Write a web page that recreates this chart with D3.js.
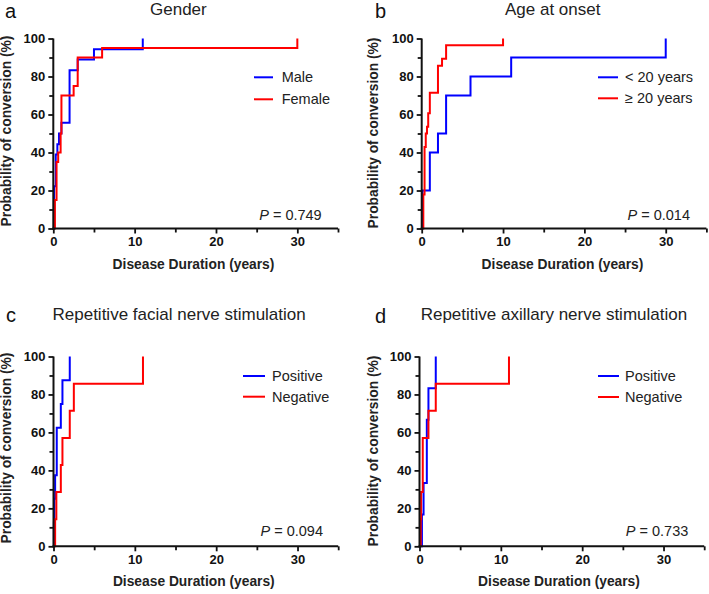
<!DOCTYPE html>
<html>
<head>
<meta charset="utf-8">
<script src="https://cdn.jsdelivr.net/npm/d3@7"></script>
<style>
  html, body { margin: 0; padding: 0; background: #fff; }
  svg { display: block; font-family: "Liberation Sans", Arial, Helvetica, sans-serif; }
</style>
</head>
<body>
<svg id="chart" width="709" height="594"></svg>
<script>
// ---------------- DATA ----------------
const panelLetters = ["a", "b", "c", "d"];
const panelTitles = ["Gender", "Age at onset", "Repetitive facial nerve stimulation", "Repetitive axillary nerve stimulation"];
const seriesNames = [["Male", "Female"], ["< 20 years", "\u2265 20 years"], ["Positive", "Negative"], ["Positive", "Negative"]];
const pValues = ["0.749", "0.014", "0.094", "0.733"];
const xTickValues = [0, 10, 20, 30];
const xMinorTicks = [5, 15, 25, 35];
const yTickValues = [0, 20, 40, 60, 80, 100];
const yMinorTicks = [10, 30, 50, 70, 90];
const xAxisTitle = "Disease Duration (years)";
const yAxisTitle = "Probability of conversion (%)";

// Panel a: Gender
const maleTime = [0.1, 0.3, 0.5, 0.7, 1.0, 2.0, 3.0, 5.0, 11.0];
const maleProb = [22.2, 38.9, 44.4, 50.0, 55.6, 83.3, 88.9, 94.4, 100];
const femaleTime = [0.2, 0.4, 0.6, 0.9, 1.0, 2.5, 3.0, 6.0, 30.0];
const femaleProb = [15, 35, 40, 50, 70, 75, 90, 95, 100];

// Panel b: Age at onset
const youngTime = [0.1, 1.0, 2.0, 3.0, 6.0, 11.0, 30.0];
const youngProb = [20, 40, 50, 70, 80, 90, 100];
const olderTime = [0.2, 0.35, 0.5, 0.65, 0.8, 1.0, 2.0, 2.5, 3.0, 10.0];
const olderProb = [17.9, 42.9, 50.0, 53.6, 60.7, 71.4, 85.7, 89.3, 96.4, 100];

// Panel c: Repetitive facial nerve stimulation
const facialPosTime = [0.05, 0.1, 0.2, 0.4, 0.9, 1.1, 2.0];
const facialPosProb = [12.5, 25.0, 37.5, 62.5, 75.0, 87.5, 100];
const facialNegTime = [0.2, 0.35, 0.9, 1.1, 2.0, 2.5, 11.0];
const facialNegProb = [14.3, 28.6, 42.9, 57.1, 71.4, 85.7, 100];

// Panel d: Repetitive axillary nerve stimulation
const axillaryPosTime = [0.3, 0.5, 0.9, 1.1, 2.0];
const axillaryPosProb = [16.7, 33.3, 66.7, 83.3, 100];
const axillaryNegTime = [0.15, 0.2, 0.4, 1.1, 2.0, 11.0];
const axillaryNegProb = [14.3, 28.6, 57.1, 71.4, 85.7, 100];

const panelSeries = [
  [[maleTime, maleProb], [femaleTime, femaleProb]],
  [[youngTime, youngProb], [olderTime, olderProb]],
  [[facialPosTime, facialPosProb], [facialNegTime, facialNegProb]],
  [[axillaryPosTime, axillaryPosProb], [axillaryNegTime, axillaryNegProb]]
];

// ---------------- LAYOUT ----------------
const seriesColors = ["#0000ff", "#ff0000"];
const layout = [
  { x0: 53.3, x1: 338.0, yTop: 38.5, yBot: 228.5, letter: [5, 18], title: [150, 15], leg: { a: 254, b: 273, ys: [77.3, 99.3], tx: 281.7 }, p: [321.7, 219.5], xt: [193.5, 268.5], yt: [11, 131] },
  { x0: 421.7, x1: 706.4, yTop: 38.5, yBot: 228.5, letter: [375, 18], title: [505, 15], leg: { a: 598, b: 618, ys: [77.3, 98.3], tx: 625 }, p: [690, 219.5], xt: [562.5, 268.5], yt: [378, 133] },
  { x0: 53.5, x1: 338.2, yTop: 356.5, yBot: 546.3, letter: [6, 322], title: [52.5, 319.5], leg: { a: 243, b: 265, ys: [376, 396.7], tx: 272 }, p: [323, 535.5], xt: [193.8, 585.5], yt: [11, 448] },
  { x0: 419.5, x1: 704.2, yTop: 356.5, yBot: 546.3, letter: [375, 322.5], title: [420.7, 319.5], leg: { a: 598, b: 619, ys: [376, 397], tx: 625 }, p: [688.3, 535.5], xt: [559, 585.5], yt: [378, 451] }
];

const svg = d3.select("#chart");

panelLetters.forEach((letter, i) => {
  const L = layout[i];
  const g = svg.append("g");
  const x = d3.scaleLinear().domain([0, 35]).range([L.x0, L.x1]);
  const y = d3.scaleLinear().domain([0, 100]).range([L.yBot, L.yTop]);

  // panel letter
  g.append("text").attr("x", L.letter[0]).attr("y", L.letter[1])
    .attr("font-size", 20).attr("fill", "#111").text(letter);
  // title
  g.append("text").attr("x", L.title[0]).attr("y", L.title[1])
    .attr("font-size", 17).attr("fill", "#222").text(panelTitles[i]);

  // curves (blue first, red on top)
  const line = d3.line().x(d => x(d[0])).y(d => y(d[1])).curve(d3.curveStepAfter);
  panelSeries[i].forEach((s, k) => {
    const pts = [[0, 0]].concat(s[0].map((t, j) => [t, s[1][j]]));
    g.append("path").datum(pts).attr("d", line)
      .attr("fill", "none").attr("stroke", seriesColors[k])
      .attr("stroke-width", 2).attr("stroke-linejoin", "miter").attr("stroke-linecap", "butt");
  });

  // axes
  const xAxis = g.append("g").attr("transform", `translate(0,${L.yBot})`)
    .call(d3.axisBottom(x).tickValues(xTickValues).tickSize(5).tickPadding(3).tickFormat(d3.format("d")));
  g.append("g").attr("transform", `translate(0,${L.yBot})`)
    .call(d3.axisBottom(x).tickValues(xMinorTicks).tickSize(4).tickFormat(""))
    .call(a => a.select(".domain").remove());
  const yAxis = g.append("g").attr("transform", `translate(${L.x0},0)`)
    .call(d3.axisLeft(y).tickValues(yTickValues).tickSize(5).tickPadding(3).tickFormat(d3.format("d")));
  g.append("g").attr("transform", `translate(${L.x0},0)`)
    .call(d3.axisLeft(y).tickValues(yMinorTicks).tickSize(4).tickFormat(""))
    .call(a => a.select(".domain").remove());

  g.selectAll(".domain").attr("stroke", "#111").attr("stroke-width", 2);
  xAxis.select(".domain").attr("d", `M${L.x0 - 1},0H${L.x1}`);
  yAxis.select(".domain").attr("d", `M0,${L.yTop}V${L.yBot + 1}`);
  g.selectAll(".tick line").attr("stroke", "#111").attr("stroke-width", 1.8);
  g.selectAll(".tick text").attr("font-size", 13).attr("font-weight", "bold")
    .attr("fill", "#111").attr("font-family", "'Liberation Sans', Arial, sans-serif");

  // axis titles
  g.append("text").attr("x", L.xt[0]).attr("y", L.xt[1]).attr("text-anchor", "middle")
    .attr("font-size", 13.8).attr("font-weight", "bold").attr("fill", "#222").text(xAxisTitle);
  g.append("text").attr("transform", `translate(${L.yt[0]},${L.yt[1]}) rotate(-90)`)
    .attr("text-anchor", "middle").attr("font-size", 13.8).attr("font-weight", "bold")
    .attr("fill", "#222").text(yAxisTitle);

  // legend
  seriesNames[i].forEach((name, k) => {
    g.append("line").attr("x1", L.leg.a).attr("x2", L.leg.b)
      .attr("y1", L.leg.ys[k]).attr("y2", L.leg.ys[k])
      .attr("stroke", seriesColors[k]).attr("stroke-width", 2);
    g.append("text").attr("x", L.leg.tx).attr("y", L.leg.ys[k] + 5)
      .attr("font-size", 14.5).attr("fill", "#222").text(name);
  });

  // P value
  const pt = g.append("text").attr("x", L.p[0]).attr("y", L.p[1]).attr("text-anchor", "end")
    .attr("font-size", 14.5).attr("fill", "#222");
  pt.append("tspan").attr("font-style", "italic").text("P");
  pt.append("tspan").text(" = " + pValues[i]);
});
</script>
</body>
</html>
